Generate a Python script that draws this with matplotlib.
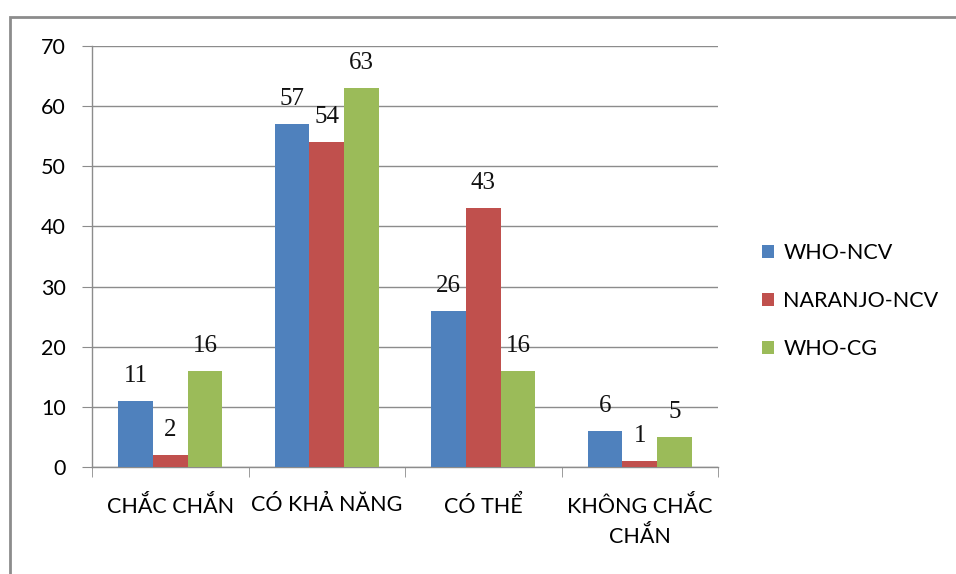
import numpy as np
import matplotlib.pyplot as plt
from matplotlib.patches import Rectangle

# ── Data ──────────────────────────────────────────────────────────────────────
categories = ['CHẮC CHẮN', 'CÓ KHẢ NĂNG', 'CÓ THỂ', 'KHÔNG CHẮC\nCHẮN']
series_names = ['WHO-NCV', 'NARANJO-NCV', 'WHO-CG']
who_ncv = [11, 57, 26, 6]
naranjo_ncv = [2, 54, 43, 1]
who_cg = [16, 63, 16, 5]

COLORS = ['#4F81BD', '#C0504D', '#9BBB59']
SANS = ['Lato', 'Noto Sans', 'DejaVu Sans']
SERIF = ['Liberation Serif', 'DejaVu Serif']
FS = 15.5

# ── Figure ────────────────────────────────────────────────────────────────────
W, H = 956, 574
fig = plt.figure(figsize=(W / 100, H / 100), dpi=100)
ax = fig.add_axes([92 / W, 1 - 467 / H, (718 - 92) / W, (467 - 46) / H])

# outer chart frame (right and bottom edges fall outside the image)
fig.patches.append(Rectangle((10 / W, -0.1), 1.2, 1 - 17 / H + 0.1,
                             transform=fig.transFigure, fill=False,
                             edgecolor='#8c8c8c', linewidth=2))

x = np.arange(len(categories))
bw = 0.222
for i, (name, vals) in enumerate(zip(series_names, [who_ncv, naranjo_ncv, who_cg])):
    bars = ax.bar(x + (i - 1) * bw, vals, width=bw, color=COLORS[i],
                  label=name, zorder=3)
    for b, v in zip(bars, vals):
        ax.annotate(str(v), (b.get_x() + b.get_width() / 2, v),
                    xytext=(0, 18), textcoords='offset points',
                    ha='center', va='center', fontsize=18,
                    family=SERIF, color='#111111', zorder=4)

ax.set_xlim(-0.5, len(categories) - 0.5)
ax.set_ylim(0, 70)
ax.set_yticks(range(0, 71, 10))
ax.grid(axis='y', color='#8c8c8c', linewidth=1, zorder=0)

for side in ['top', 'right']:
    ax.spines[side].set_visible(False)
for side in ['left', 'bottom']:
    ax.spines[side].set_color('#8c8c8c')
    ax.spines[side].set_linewidth(1)

ax.tick_params(axis='y', length=7, color='#8c8c8c', pad=12, labelsize=FS)
ax.set_xticks(x)
ax.set_xticklabels(categories, fontsize=FS, family=SANS, linespacing=1.45)
ax.tick_params(axis='x', length=0, pad=20)
ax.set_xticks(np.arange(-0.5, len(categories)), minor=True)
ax.tick_params(axis='x', which='minor', length=7, color='#8c8c8c')
for lbl in ax.get_yticklabels():
    lbl.set_family(SANS)

ax.legend(loc='center left', bbox_to_anchor=(1.07, 0.394),
          frameon=False, prop={'family': SANS, 'size': FS},
          borderaxespad=0, borderpad=0,
          handlelength=0.55, handleheight=0.55, handletextpad=0.45,
          labelspacing=1.3)

fig.savefig('out.png', dpi=100, facecolor='white')
